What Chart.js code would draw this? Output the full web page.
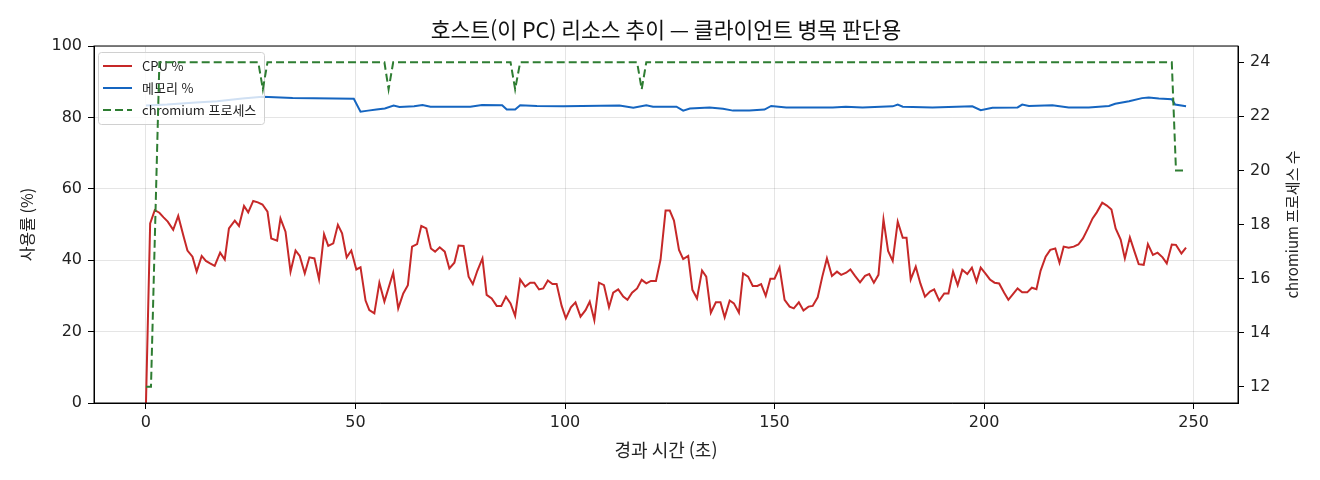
<!DOCTYPE html>
<html lang="ko">
<head>
<meta charset="utf-8">
<script src="https://cdn.jsdelivr.net/npm/chart.js@4.4.1/dist/chart.umd.min.js"></script>
<style>
  html, body { margin: 0; padding: 0; background: #fff; }
  #wrap { width: 1320px; height: 480px; position: relative; }
</style>
</head>
<body>
<div id="wrap"><canvas id="resChart"></canvas></div>
<script>
const FONT = '"Noto Sans CJK KR", "Noto Sans", sans-serif';
const NUM_FONT = '"DejaVu Sans", sans-serif';

const chartTitle = '호스트(이 PC) 리소스 추이 — 클라이언트 병목 판단용';
const xLabel = '경과 시간 (초)';
const yLabel = '사용률 (%)';
const y2Label = 'chromium 프로세스 수';
const seriesNames = ['CPU %', '메모리 %', 'chromium 프로세스'];

const xTicks = [0, 50, 100, 150, 200, 250];
const yTicks = [0, 20, 40, 60, 80, 100];
const y2Ticks = [12, 14, 16, 18, 20, 22, 24];

// CPU % samples (seconds, value)
const cpuT = [0, 1.0, 2.1, 3.2, 4.2, 5.2, 6.5, 7.7, 9.0, 9.9, 11.1, 12.1, 13.3, 14.3, 15.3, 16.4, 17.7, 18.8, 19.8,
  21.2, 22.2, 23.4, 24.4, 25.6, 26.7, 27.8, 29.0, 29.9, 31.3, 32.1, 33.3, 34.5, 35.7, 36.7, 37.9, 39.0, 40.2,
  41.3, 42.5, 43.5, 44.7, 45.8, 46.8, 47.9, 49.0, 50.2, 51.2, 52.4, 53.3, 54.5, 55.7, 56.9, 59.0, 60.2, 61.4,
  62.5, 63.5, 64.7, 65.7, 66.9, 68.0, 69.0, 70.1, 71.3, 72.4, 73.6, 74.6, 75.8, 77.0, 78.0, 79.1, 80.3, 81.3,
  82.5, 83.7, 84.8, 85.9, 87.0, 88.1, 89.3, 90.5, 91.7, 92.7, 93.8, 94.8, 95.9, 97.0, 98.0, 99.2, 100.2, 101.4,
  102.5, 103.7, 104.9, 105.9, 107.0, 108.1, 109.3, 110.5, 111.5, 112.7, 113.9, 114.9, 116.0, 117.2, 118.3,
  119.4, 120.5, 121.7, 122.8, 124.0, 125.0, 126.0, 127.2, 128.2, 129.4, 130.4, 131.5, 132.7, 133.7, 134.8,
  136.0, 137.1, 138.1, 139.3, 140.3, 141.5, 142.5, 143.7, 144.8, 145.9, 146.8, 147.9, 149.0, 150.0, 151.2,
  152.4, 153.6, 154.6, 155.8, 156.9, 158.1, 159.1, 160.3, 161.4, 162.5, 163.7, 164.9, 165.9, 167.1, 168.1,
  169.2, 170.4, 171.6, 172.6, 173.7, 174.8, 176.0, 177.1, 178.2, 179.4, 180.6, 181.5, 182.5, 183.7, 184.8,
  185.9, 187.1, 188.1, 189.3, 190.5, 191.5, 192.6, 193.7, 194.8, 196.0, 197.1, 198.2, 199.2, 200.3, 201.4,
  202.5, 203.6, 204.8, 205.8, 206.9, 208.0, 209.1, 210.3, 211.4, 212.5, 213.5, 214.7, 215.8, 217.0, 218.0,
  219.0, 220.2, 221.4, 222.5, 223.6, 224.8, 225.9, 226.9, 228.2, 229.3, 230.4, 231.4, 232.6, 233.6, 234.8,
  235.9, 236.9, 238.1, 239.1, 240.3, 241.4, 242.6, 243.6, 244.8, 245.8, 247.1, 248.2];
const cpuV = [0, 50.3, 54.0, 53.3, 52.0, 50.8, 48.5, 52.4, 46.6, 42.7, 41.0, 36.8, 41.2, 39.8, 39.1, 38.4, 42.1, 40.2, 48.9,
  51.1, 49.6, 55.2, 53.4, 56.6, 56.2, 55.6, 53.6, 46.1, 45.5, 51.7, 48.0, 36.8, 42.7, 41.2, 36.3, 40.8, 40.5,
  34.7, 47.3, 44.0, 44.7, 49.9, 47.5, 40.8, 42.7, 37.4, 38.0, 28.7, 26.0, 25.1, 33.7, 28.4, 36.5, 26.5, 30.7,
  33.0, 43.8, 44.5, 49.6, 48.9, 43.3, 42.4, 43.6, 42.4, 37.7, 39.3, 44.1, 44.0, 35.4, 33.3, 37.1, 40.5, 30.3,
  29.3, 27.2, 27.2, 29.8, 27.9, 24.4, 34.6, 32.6, 33.7, 33.7, 31.8, 32.1, 34.3, 33.3, 33.3, 27.2, 23.7, 26.8,
  28.2, 24.2, 26.0, 28.4, 23.2, 33.7, 33.0, 26.8, 30.9, 31.8, 29.8, 28.9, 30.9, 32.1, 34.5,
  33.5, 34.2, 34.2, 40.2, 53.9, 53.9, 51.1, 42.9, 40.3, 41.2, 31.7, 29.3, 37.1, 35.4, 25.3,
  28.2, 28.2, 24.0, 28.7, 27.9, 25.3, 36.3, 35.4, 32.8, 32.8, 33.3, 30.0, 34.8, 34.8, 38.0,
  28.9, 27.0, 26.5, 28.2, 25.9, 27.0, 27.2, 29.6, 35.4, 40.5, 35.6, 36.8, 35.9, 36.5, 37.4,
  35.6, 33.8, 35.6, 36.1, 33.7, 35.9, 51.4, 42.6, 39.8, 50.8, 46.3, 46.3, 34.6, 38.2, 33.5,
  29.8, 31.2, 31.8, 28.7, 30.7, 30.7, 36.8, 33.0, 37.3, 36.1, 37.9, 34.0, 37.9, 36.3, 34.6,
  33.7, 33.5, 30.9, 28.9, 30.5, 32.1, 31.0, 31.0, 32.3, 31.9, 37.1, 41.0, 42.9, 43.3, 39.3,
  43.8, 43.5, 43.8, 44.4, 46.1, 48.9, 51.7, 53.4, 56.1, 55.3, 54.2, 48.9, 45.8, 40.5, 46.4,
  42.4, 38.9, 38.7, 44.5, 41.5, 42.1, 40.8, 39.1, 44.4, 44.3, 41.9, 43.5];

// memory % samples
const memT = [0, 5, 11.9, 17, 23, 27.8, 35, 45, 49.6, 51.2, 53, 55, 57, 59.1, 60.5, 64, 66, 67.9, 77.4, 80.2,
  85, 86.1, 88.1, 89.3, 93.3, 99.6, 113, 116.3, 119.4, 121, 126.6, 128.2, 129.8, 134.5, 137.7, 140.1,
  144, 147.6, 149.2, 152.8, 163.9, 167, 171, 178.2, 179.4, 180.6, 187.7, 197.2, 199.2, 202, 208, 209.1,
  210.7, 216.3, 220.2, 225, 229.8, 231.3, 234.6, 237.7, 239.3, 241.7, 244.8, 245.6, 248.2];
const memV = [83.3, 83.6, 84.2, 84.5, 85.3, 85.8, 85.4, 85.3, 85.2, 81.6, 81.9, 82.2, 82.5, 83.3, 82.9, 83.1, 83.5, 83.0, 83.0, 83.5,
  83.4, 82.2, 82.2, 83.4, 83.2, 83.1, 83.3, 82.7, 83.4, 83.0, 83.0, 81.9, 82.5, 82.8, 82.4, 81.9,
  81.9, 82.2, 83.2, 82.8, 82.8, 83.0, 82.8, 83.1, 83.6, 83.0, 82.8, 83.1, 82.0, 82.7, 82.8, 83.6,
  83.2, 83.4, 82.8, 82.8, 83.2, 83.8, 84.5, 85.4, 85.6, 85.3, 85.1, 83.6, 83.1];

// chromium process count samples
const chromT = [0, 1.2, 3.2, 26.8, 27.9, 29.0, 56.9, 57.9, 59.0, 87.0, 88.1, 89.3, 117.2, 118.3, 119.4, 244.8, 245.8, 247.1, 248.2];
const chromV = [12, 12, 24, 24, 23, 24, 24, 23, 24, 24, 23, 24, 24, 23, 24, 24, 20, 20, 20];

const pairs = (xs, ys) => xs.map((x, i) => ({ x, y: ys[i] }));
const fixTicks = list => axis => { axis.ticks = list.map(v => ({ value: v })); };

// legend inside the plot (drawn between the left-axis lines and the chromium line),
// frame, title over the plot centre, right axis label reading bottom-to-top
const overlay = {
  id: 'overlay',
  afterDatasetDraw(chart, args) {
    if (args.index !== 0) return;
    const ctx = chart.ctx;
    const datasets = chart.data.datasets;
    ctx.save();
    ctx.fillStyle = 'rgba(255,255,255,0.8)';
    ctx.strokeStyle = '#d0d0d0';
    ctx.lineWidth = 1;
    ctx.beginPath();
    ctx.roundRect(98.5, 52.5, 166, 72, 3);
    ctx.fill();
    ctx.stroke();
    ctx.font = '13px ' + FONT;
    ctx.textBaseline = 'middle';
    datasets.forEach((ds, i) => {
      const y = 66 + i * 22;
      ctx.strokeStyle = ds.borderColor;
      ctx.lineWidth = ds.borderWidth;
      ctx.setLineDash(ds.borderDash || []);
      ctx.beginPath();
      ctx.moveTo(103, y);
      ctx.lineTo(132, y);
      ctx.stroke();
      ctx.setLineDash([]);
      ctx.fillStyle = '#222';
      ctx.fillText(ds.label, 142, y);
    });
    ctx.restore();
  },
  afterDraw(chart) {
    const { ctx, chartArea: a } = chart;
    const cx = (a.left + a.right) / 2;
    ctx.save();
    ctx.strokeStyle = '#000';
    ctx.lineWidth = 1;
    ctx.strokeRect(a.left, a.top, a.right - a.left, a.bottom - a.top);
    ctx.fillStyle = '#111';
    ctx.textAlign = 'center';
    ctx.textBaseline = 'middle';
    ctx.font = '21.5px ' + FONT;
    ctx.fillText(chartTitle, cx, 30);
    ctx.translate(1292, (a.top + a.bottom) / 2);
    ctx.rotate(-Math.PI / 2);
    ctx.font = '15px ' + FONT;
    ctx.fillStyle = '#222';
    ctx.fillText(y2Label, 0, 0);
    ctx.restore();
  }
};

const tickFont = { family: NUM_FONT, size: 16 };
const gridColor = 'rgba(0,0,0,0.1)';

new Chart(document.getElementById('resChart'), {
  type: 'line',
  data: {
    datasets: [{
      label: seriesNames[0],
      data: pairs(cpuT, cpuV),
      borderColor: '#c62828',
      borderWidth: 2,
      yAxisID: 'y',
      order: 1
    }, {
      label: seriesNames[1],
      data: pairs(memT, memV),
      borderColor: '#1565c0',
      borderWidth: 2,
      yAxisID: 'y',
      order: 2
    }, {
      label: seriesNames[2],
      data: pairs(chromT, chromV),
      borderColor: '#2e7d32',
      borderWidth: 2,
      borderDash: [8, 4],
      yAxisID: 'y2',
      order: 0
    }]
  },
  options: {
    responsive: true,
    maintainAspectRatio: false,
    animation: false,
    events: [],
    elements: { point: { radius: 0 }, line: { tension: 0, fill: false } },
    layout: { padding: { top: 46, left: 0, right: 0, bottom: 0 } },
    plugins: {
      legend: { display: false },
      tooltip: { enabled: false },
      title: { display: false }
    },
    scales: {
      x: {
        type: 'linear',
        min: -12.4,
        max: 260.6,
        afterBuildTicks: fixTicks(xTicks),
        afterFit: s => { s.height = 77; },
        grid: { color: gridColor, tickColor: '#000', tickLength: 6 },
        border: { color: '#000' },
        ticks: { font: tickFont, color: '#222', padding: 4 },
        title: { display: true, text: xLabel, color: '#222', font: { family: FONT, size: 18 }, padding: { bottom: 19 } }
      },
      y: {
        position: 'left',
        min: 0,
        max: 100,
        afterBuildTicks: fixTicks(yTicks),
        afterFit: s => { s.width = 94; },
        grid: { color: gridColor, tickColor: '#000', tickLength: 6 },
        border: { color: '#000' },
        ticks: { font: tickFont, color: '#222', padding: 6 },
        title: { display: true, text: yLabel, color: '#222', font: { family: FONT, size: 16 }, padding: { top: 17 } }
      },
      y2: {
        position: 'right',
        min: 11.4,
        max: 24.6,
        afterBuildTicks: fixTicks(y2Ticks),
        afterFit: s => { s.width = 82; },
        grid: { drawOnChartArea: false, tickColor: '#000', tickLength: 6 },
        border: { color: '#000' },
        ticks: { font: tickFont, color: '#222', padding: 6 }
      }
    }
  },
  plugins: [overlay]
});
</script>
</body>
</html>
